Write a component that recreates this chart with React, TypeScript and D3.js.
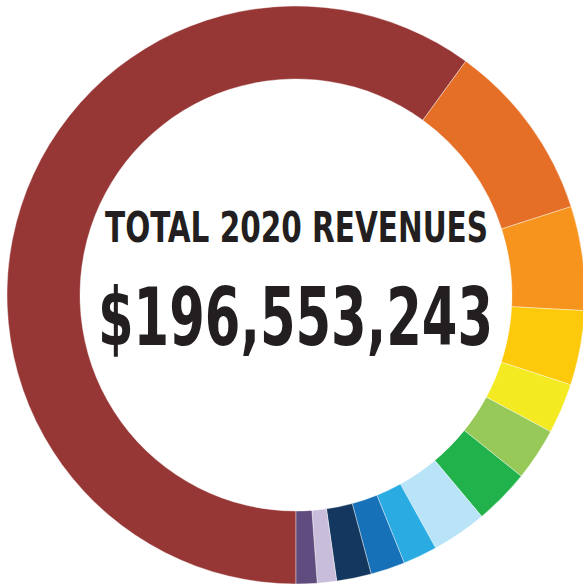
import * as d3 from "d3";
import React, { useEffect, useRef } from "react";

// share of total revenue, percent
const sources = [
  "s1", "s2", "s3", "s4", "s5", "s6", "s7", "s8", "s9", "s10", "s11", "s12", "s13",
];
const shares = [60.0, 10.06, 5.81, 4.17, 2.81, 2.94, 3.11, 3.08, 1.92, 1.92, 1.94, 1.08, 1.17];
const colors = [
  "#963736", "#E56F27", "#F7941E", "#FDCA0B", "#F4EA22", "#96C957", "#22B24C",
  "#B9E4F8", "#2AACE2", "#1771B8", "#13375E", "#C8BEDB", "#604C7E",
];
const title = "TOTAL 2020 REVENUES";
const total = "$196,553,243";

export default function App() {
  const svgRef = useRef(null);

  useEffect(() => {
    const svg = d3.select(svgRef.current);
    svg.selectAll("*").remove();

    const cx = 296, cy = 295;
    const g = svg.append("g").attr("transform", `translate(${cx},${cy})`);

    const pie = d3.pie<number>()
      .sort(null)
      .value(d => d)
      .startAngle(Math.PI)
      .endAngle(3 * Math.PI);

    const arc = d3.arc<d3.PieArcDatum<number>>()
      .innerRadius(216)
      .outerRadius(289);

    g.selectAll("path")
      .data(pie(shares))
      .enter().append("path")
      .attr("d", arc)
      .attr("fill", (d, i) => colors[i])
      .attr("stroke", "#fff")
      .attr("stroke-width", 0.4)
      .append("title")
      .text((d, i) => sources[i]);

    const font = "'Liberation Sans Narrow', 'DejaVu Sans Condensed', Roboto, sans-serif";

    svg.append("text")
      .attr("x", 296.5)
      .attr("y", 241.5)
      .attr("text-anchor", "middle")
      .attr("font-family", font)
      .attr("font-weight", "bold")
      .attr("font-size", 43)
      .attr("fill", "#231F20")
      .attr("textLength", 383)
      .attr("lengthAdjust", "spacingAndGlyphs")
      .text(title);

    svg.append("text")
      .attr("x", 295.5)
      .attr("y", 345)
      .attr("text-anchor", "middle")
      .attr("font-family", font)
      .attr("font-weight", "bold")
      .attr("font-size", 81)
      .attr("fill", "#231F20")
      .attr("textLength", 395)
      .attr("lengthAdjust", "spacingAndGlyphs")
      .text(total);
  }, []);

  return (
    <svg
      ref={svgRef}
      width={583}
      height={585}
      style={{ position: "absolute", left: 0, top: 0, background: "#fff" }}
    />
  );
}
